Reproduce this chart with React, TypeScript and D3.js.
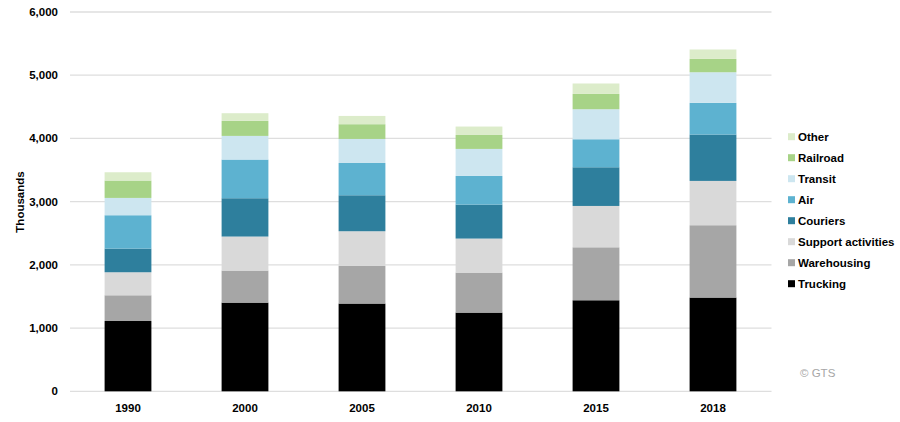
import React from "react";
import * as d3 from "d3";

const years = ["1990", "2000", "2005", "2010", "2015", "2018"];
const seriesNames = ["Trucking", "Warehousing", "Support activities", "Couriers", "Air", "Transit", "Railroad", "Other"];
const trucking = [1112, 1403, 1388, 1245, 1440, 1483];
const warehousing = [407, 507, 595, 633, 838, 1144];
const support = [364, 538, 549, 538, 654, 701];
const couriers = [375, 606, 569, 538, 612, 734];
const air = [527, 612, 511, 453, 443, 500];
const transit = [274, 374, 380, 427, 475, 485];
const railroad = [275, 237, 233, 221, 242, 211];
const other = [131, 122, 131, 133, 165, 149];
const yTicks = [0, 1000, 2000, 3000, 4000, 5000, 6000];
const colors = ["#000000", "#a6a6a6", "#d9d9d9", "#2e7f9d", "#5db2d0", "#cde6f0", "#a7d387", "#dcecca"];

export default function App() {
  const W = 900, H = 422;
  const x = d3.scaleBand<string>().domain(years).range([69.5, 771.5]).paddingInner(0.6).paddingOuter(0.3);
  const y = d3.scaleLinear().domain([0, 6000]).range([391.3, 12]);
  const seriesData = [trucking, warehousing, support, couriers, air, transit, railroad, other];
  const rows = years.map((yr, i) => {
    const r: any = { year: yr };
    seriesNames.forEach((s, j) => (r[s] = seriesData[j][i]));
    return r;
  });
  const stacked = d3.stack<any>().keys(seriesNames)(rows);
  const font = "'Liberation Sans', Arial, sans-serif";
  const legendOrder = [...seriesNames].reverse();
  const fs = 11.5;
  return (
    <svg width={W} height={H} style={{ position: "absolute", left: 0, top: 0, background: "#fff" }} fontFamily={font}>
      {yTicks.map((t) => (
        <g key={t}>
          <line x1={70} x2={771.5} y1={y(t)} y2={y(t)} stroke="#dedede" strokeWidth={1.3} />
          <text x={58} y={y(t)} dy="0.35em" textAnchor="end" fontSize={fs} fontWeight="bold" fill="#000">
            {d3.format(",")(t)}
          </text>
        </g>
      ))}
      <text transform={`translate(20,${202}) rotate(-90)`} textAnchor="middle" fontSize={fs} fontWeight="bold" dy="0.35em">
        Thousands
      </text>
      {stacked.map((layer, j) => (
        <g key={layer.key} fill={colors[j]}>
          {layer.map((d, i) => (
            <rect key={i} x={x(years[i])} width={x.bandwidth()} y={y(d[1])} height={y(d[0]) - y(d[1])} />
          ))}
        </g>
      ))}
      {years.map((yr) => (
        <text key={yr} x={(x(yr) as number) + x.bandwidth() / 2} y={408} dy="0.35em" textAnchor="middle" fontSize={fs} fontWeight="bold">
          {yr}
        </text>
      ))}
      {legendOrder.map((s, i) => {
        const j = seriesNames.indexOf(s);
        const cy = 136.7 + i * 21;
        return (
          <g key={s}>
            <rect x={788} y={cy - 3.5} width={7} height={7} fill={colors[j]} />
            <text x={798} y={cy} dy="0.35em" fontSize={fs} fontWeight="bold">{s}</text>
          </g>
        );
      })}
      <text x={800} y={373} dy="0.35em" fontSize={fs} fill="#a6a6a6">© GTS</text>
    </svg>
  );
}
